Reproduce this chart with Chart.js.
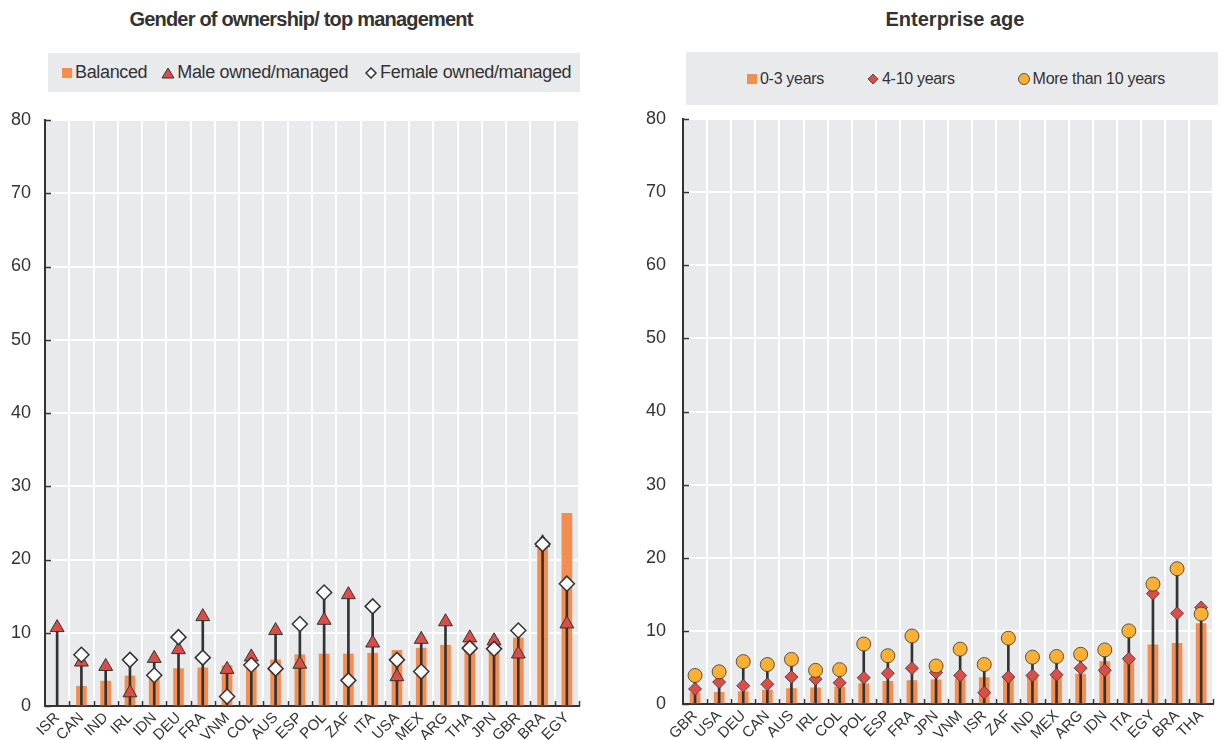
<!DOCTYPE html>
<html>
<head>
<meta charset="utf-8">
<script src="https://cdn.jsdelivr.net/npm/chart.js@4.4.1/dist/chart.umd.min.js"></script>
<style>
  body { margin: 0; width: 1221px; height: 740px; background: #fff; position: relative; overflow: hidden;
         font-family: 'Liberation Sans Narrow', 'Arial Narrow', 'Liberation Sans', sans-serif; color: #333; }
  .title { position: absolute; top: 8px; font-weight: bold; font-size: 20px; text-align: center; }
  .legend { position: absolute; background: #e9eaec; display: flex; align-items: center; font-size: 18px; }
  .legend span.item { display: inline-flex; align-items: center; white-space: nowrap; }
  .legend svg { margin-right: 2px; }
  .box { position: absolute; top: 0; height: 740px; }
</style>
</head>
<body>
<div class="title" style="left:6px;width:590px;letter-spacing:-0.8px;">Gender of ownership/ top management</div>
<div class="legend" style="left:48px;top:53px;width:532px;height:39px;padding-left:13px;box-sizing:border-box;letter-spacing:-0.35px;">
  <span class="item"><svg width="12" height="12"><rect x="1" y="1" width="10" height="10" fill="#f58d51"/></svg>Balanced</span>
  <span class="item" style="margin-left:14px;"><svg width="14" height="12"><polygon points="7,1 13,11 1,11" fill="#db4e48" stroke="#333" stroke-width="1"/></svg>Male owned/managed</span>
  <span class="item" style="margin-left:16px;"><svg width="14" height="12"><polygon points="7,1 12,6 7,11 2,6" fill="#fff" stroke="#333" stroke-width="1.5"/></svg>Female owned/managed</span>
</div>
<div class="title" style="left:690px;width:530px;">Enterprise age</div>
<div class="legend" style="left:686px;top:52px;width:532px;height:53px;padding-left:60px;box-sizing:border-box;font-size:16px;letter-spacing:-0.3px;">
  <span class="item"><svg width="12" height="12"><rect x="1" y="1" width="10" height="10" fill="#f58d51"/></svg>0-3 years</span>
  <span class="item" style="margin-left:42px;"><svg width="14" height="12"><polygon points="7,1 12,6 7,11 2,6" fill="#db4e48" stroke="#333" stroke-width="0.8"/></svg>4-10 years</span>
  <span class="item" style="margin-left:62px;"><svg width="14" height="14"><circle cx="7" cy="7" r="5.5" fill="#fbb034" stroke="#333" stroke-width="0.8"/></svg>More than 10 years</span>
</div>
<div class="box" style="left:0;width:600px;"><canvas id="gender"></canvas></div>
<div class="box" style="left:620px;width:601px;"><canvas id="age"></canvas></div>
<script>
// Gender of ownership / top management
const genderCountries = ['ISR','CAN','IND','IRL','IDN','DEU','FRA','VNM','COL','AUS','ESP','POL','ZAF','ITA','USA','MEX','ARG','THA','JPN','GBR','BRA','EGY'];
const balanced = [null, 2.7, 3.4, 4.1, 4.2, 5.1, 5.2, 5.5, 5.8, 6.3, 7.0, 7.1, 7.1, 7.2, 7.6, 7.9, 8.3, 8.6, 9.1, 9.3, 21.7, 26.3];
const maleOwned = [10.7, 6.0, 5.4, 1.8, 6.5, 7.7, 12.2, 5.0, 6.7, 10.3, 5.7, 11.7, 15.2, 8.6, 4.0, 9.1, 11.5, 9.3, 8.9, 7.1, 22.3, 11.2];
const femaleOwned = [null, 7.0, null, 6.3, 4.2, 9.4, 6.6, 1.3, 5.6, 5.1, 11.2, 15.5, 3.5, 13.6, 6.3, 4.7, null, 7.9, 7.8, 10.3, 22.1, 16.7];

// Enterprise age
const ageCountries = ['GBR','USA','DEU','CAN','AUS','IRL','COL','POL','ESP','FRA','JPN','VNM','ISR','ZAF','IND','MEX','ARG','IDN','ITA','EGY','BRA','THA'];
const age0to3 = [1.5, 1.6, 1.7, 1.9, 2.1, 2.2, 2.3, 2.8, 3.1, 3.2, 3.3, 3.4, 3.6, 3.6, 3.7, 3.8, 4.1, 5.8, 6.0, 8.1, 8.3, 11.0];
const age4to10 = [2.05, 3.0, 2.5, 2.7, 3.7, 3.4, 2.9, 3.6, 4.2, 4.9, 4.3, 3.9, 1.55, 3.7, 3.9, 4.0, 4.9, 4.6, 6.2, 15.1, 12.4, 13.2];
const ageOver10 = [3.9, 4.4, 5.8, 5.4, 6.1, 4.6, 4.7, 8.2, 6.6, 9.3, 5.2, 7.5, 5.4, 9.0, 6.4, 6.5, 6.8, 7.4, 10.0, 16.4, 18.5, 12.3];

const yTicks = [0, 10, 20, 30, 40, 50, 60, 70, 80];

const FONT = "'Liberation Sans Narrow', 'Arial Narrow', 'Liberation Sans', sans-serif";
const DARK = '#333333';

// stem goes from 0 up to the highest marker
function stems(a, b) {
  return a.map((v, i) => [0, Math.max(v ?? 0, b[i] ?? 0)]);
}

// gray plot background + small inside tick marks
const plotDecor = {
  id: 'plotDecor',
  beforeDraw(chart) {
    const a = chart.chartArea, ctx = chart.ctx;
    ctx.save();
    ctx.fillStyle = '#e9eaec';
    ctx.fillRect(a.left, a.top, a.right - a.left, a.bottom - a.top);
    ctx.restore();
  },
  beforeDatasetsDraw(chart) {
    const a = chart.chartArea, ctx = chart.ctx;
    const x = chart.scales.x, y = chart.scales.y;
    ctx.save();
    ctx.strokeStyle = DARK;
    ctx.lineWidth = 1.5;
    ctx.beginPath();
    yTicks.forEach(t => {
      const py = Math.round(y.getPixelForValue(t)) + 0.5;
      ctx.moveTo(a.left, py); ctx.lineTo(a.left + 6, py);
    });
    const n = x.getLabels().length;
    const step = (a.right - a.left) / n;
    for (let i = 1; i <= n; i++) {
      const px = Math.round(a.left + i * step) + 0.5;
      ctx.moveTo(px, a.bottom); ctx.lineTo(px, a.bottom - 5);
    }
    ctx.stroke();
    ctx.restore();
  }
};

function makeChart(id, labels, barData, markerA, markerB, opts) {
  const ctx = document.getElementById(id).getContext('2d');
  return new Chart(ctx, {
    type: 'bar',
    data: {
      labels: labels,
      datasets: [
        {
          type: 'line', data: markerB, showLine: false, order: 0,
          pointStyle: opts.bStyle, pointRadius: opts.bRadius,
          pointBackgroundColor: opts.bColor, pointBorderColor: DARK, pointBorderWidth: opts.bBorder
        },
        {
          type: 'line', data: markerA, showLine: false, order: 0,
          pointStyle: opts.aStyle, pointRadius: opts.aRadius,
          pointBackgroundColor: opts.aColor, pointBorderColor: DARK, pointBorderWidth: opts.aBorder
        },
        {
          data: stems(markerA, markerB), backgroundColor: DARK,
          barThickness: 2, grouped: false, order: 1
        },
        {
          data: barData, backgroundColor: '#f58d51',
          barThickness: 10, grouped: false, order: 2
        }
      ]
    },
    options: {
      responsive: true,
      maintainAspectRatio: false,
      animation: false,
      layout: { padding: { top: opts.top, right: opts.right, left: 0, bottom: 0 } },
      plugins: { legend: { display: false }, tooltip: { enabled: false } },
      scales: {
        x: {
          grid: { color: '#ffffff', lineWidth: 2, drawTicks: false, offset: true },
          border: { color: DARK, width: 2 },
          ticks: {
            autoSkip: false, minRotation: 45, maxRotation: 45, padding: 3,
            color: DARK, font: { family: FONT, size: 15 }
          },
          afterFit(s) { s.height = opts.xHeight; }
        },
        y: {
          min: 0, max: 80,
          grid: { color: '#ffffff', lineWidth: 2, drawTicks: false },
          border: { color: DARK, width: 2 },
          ticks: {
            stepSize: 10, padding: opts.yPad, color: DARK,
            font: { family: FONT, size: 18 }
          },
          afterFit(s) { s.width = opts.yWidth; }
        }
      }
    },
    plugins: [plotDecor]
  });
}

makeChart('gender', genderCountries, balanced, maleOwned, femaleOwned, {
  aStyle: 'triangle', aRadius: 8, aColor: '#db4e48', aBorder: 1,
  bStyle: 'rectRot', bRadius: 7.5, bColor: '#ffffff', bBorder: 1.5,
  top: 120, right: 21, xHeight: 34, yWidth: 45, yPad: 14
});

makeChart('age', ageCountries, age0to3, age4to10, ageOver10, {
  aStyle: 'rectRot', aRadius: 6.5, aColor: '#db4e48', aBorder: 0.8,
  bStyle: 'circle', bRadius: 7, bColor: '#fbb034', bBorder: 0.8,
  top: 119, right: 4, xHeight: 36, yWidth: 63, yPad: 17
});
</script>
</body>
</html>
